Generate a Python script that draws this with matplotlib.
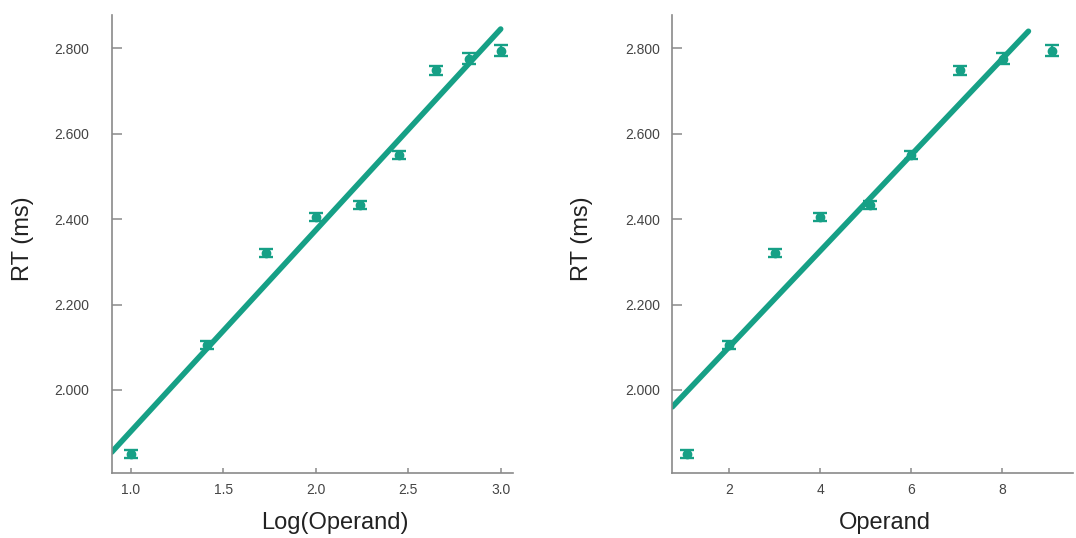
import numpy as np
import matplotlib
matplotlib.use("Agg")
import matplotlib.pyplot as plt

plt.rcParams["font.family"] = ["Liberation Sans", "DejaVu Sans"]

# data
log_operand = [1.0, 1.41, 1.73, 2.0, 2.24, 2.45, 2.65, 2.83, 3.0]
operand = [1.08, 2.0, 3.0, 4.0, 5.09, 6.0, 7.08, 8.03, 9.09]
rt = [1850, 2106, 2321, 2405, 2433, 2550, 2748, 2776, 2794]
rt_err = [10, 9, 9, 9, 10, 10, 11, 12, 13]

yticks = [2000, 2200, 2400, 2600, 2800]
ytick_labels = ["2.000", "2.200", "2.400", "2.600", "2.800"]
left_xticks = [1.0, 1.5, 2.0, 2.5, 3.0]
right_xticks = [2, 4, 6, 8]
left_fit_range = (0.897, 3.0)
right_fit_range = (0.746, 8.58)

teal = "#16A086"
axis_grey = "#8a8a8a"

fig = plt.figure(figsize=(10.76, 5.38), dpi=100)
ax1 = fig.add_axes([0.1038, 0.1203, 0.3727, 0.8519])
ax2 = fig.add_axes([0.6248, 0.1203, 0.3724, 0.8519])

panels = [
    (ax1, log_operand, left_fit_range, left_xticks, ["1.0", "1.5", "2.0", "2.5", "3.0"],
     (0.897, 3.065), "Log(Operand)", 16.5, -0.194, 0.557),
    (ax2, operand, right_fit_range, right_xticks, ["2", "4", "6", "8"],
     (0.746, 9.56), "Operand", 8.4, -0.198, 0.530),
]

for ax, x, fit_range, xt, xtl, xlim, xlabel, ypad, ylab_x, xlab_x in panels:
    slope, intercept = np.polyfit(x, rt, 1)
    xf = np.array(fit_range)
    ax.plot(xf, slope * xf + intercept, color=teal, lw=4, solid_capstyle="round", zorder=2)
    ax.errorbar(x, rt, yerr=rt_err, fmt="o", color=teal, ms=6, elinewidth=1.7,
                capsize=5, capthick=1.7, zorder=3)

    ax.set_xlim(*xlim)
    ax.set_ylim(1805, 2878)
    ax.set_xticks(xt)
    ax.set_xticklabels(xtl)
    ax.set_yticks(yticks)
    ax.set_yticklabels(ytick_labels)

    for side in ["top", "right"]:
        ax.spines[side].set_visible(False)
    for side in ["left", "bottom"]:
        ax.spines[side].set_color(axis_grey)
        ax.spines[side].set_linewidth(1.2)

    ax.tick_params(axis="y", direction="in", length=7.5, width=1.1, color=axis_grey,
                   labelcolor="#444444", labelsize=10, pad=ypad)
    ax.tick_params(axis="x", direction="in", length=3.5, width=1.1, color=axis_grey,
                   labelcolor="#444444", labelsize=10, pad=7)

    ax.set_ylabel("RT (ms)", fontsize=17, color="#222222")
    ax.yaxis.set_label_coords(ylab_x, 0.512)
    ax.set_xlabel(xlabel, fontsize=17, color="#222222")
    ax.xaxis.set_label_coords(xlab_x, -0.084)

fig.savefig("out.png", dpi=100)
